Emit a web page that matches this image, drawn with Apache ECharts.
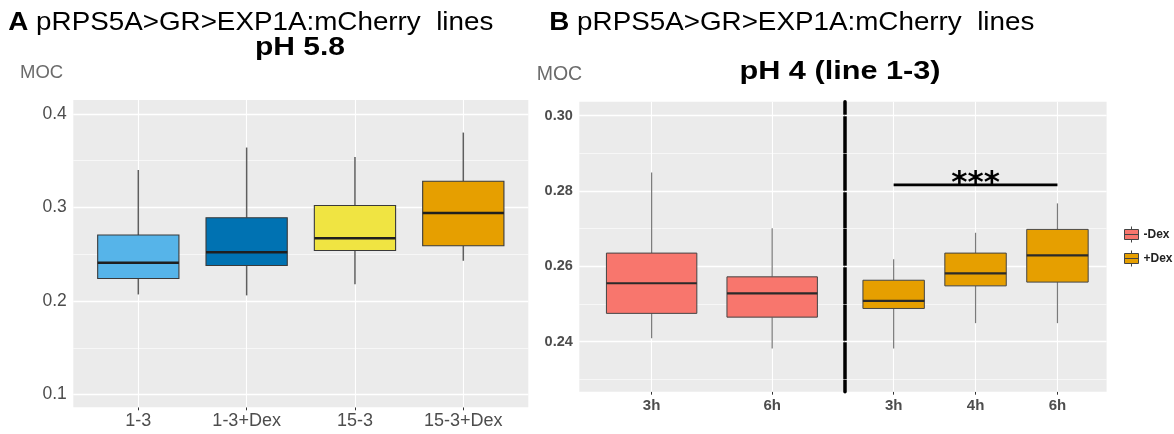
<!DOCTYPE html>
<html>
<head>
<meta charset="utf-8">
<script src="https://cdn.jsdelivr.net/npm/echarts@6/dist/echarts.min.js"></script>
<style>
  html, body { margin: 0; padding: 0; background: #ffffff; }
  #chart { width: 1174px; height: 434px; }
</style>
</head>
<body>
<div id="chart"></div>
<script>
// ---------------- data ----------------
// Panel A : pH 5.8
const catsA = ['1-3', '1-3+Dex', '15-3', '15-3+Dex'];
const lowA  = [0.207, 0.206, 0.218, 0.243];
const q1A   = [0.224, 0.238, 0.254, 0.259];
const medA  = [0.241, 0.252, 0.267, 0.294];
const q3A   = [0.2705, 0.289, 0.302, 0.328];
const highA = [0.340, 0.364, 0.354, 0.380];
const yTickLabelsA = ['0.1', '0.2', '0.3', '0.4'];
const yMinorA = [0.15, 0.25, 0.35];

// Panel B : pH 4 (line 1-3), -Dex
const catsB1 = ['3h', '6h'];
const lowB1  = [0.2409, 0.2382];
const q1B1   = [0.2475, 0.2465];
const medB1  = [0.2555, 0.2528];
const q3B1   = [0.2635, 0.2572];
const highB1 = [0.2849, 0.2701];

// Panel B : +Dex
const catsB2 = ['3h', '4h', '6h'];
const lowB2  = [0.2382, 0.2449, 0.2449];
const q1B2   = [0.2488, 0.2548, 0.2558];
const medB2  = [0.2508, 0.2581, 0.2629];
const q3B2   = [0.2563, 0.2635, 0.2698];
const highB2 = [0.2619, 0.2689, 0.2767];

const yTickLabelsB = ['0.24', '0.26', '0.28', '0.30'];
const yMinorB = [0.23, 0.25, 0.27, 0.29];

// significance bracket (+Dex 3h vs 6h)
const sigFrom = '3h', sigTo = '6h', sigY = 0.2816, sigLabel = '***';

const seriesNames = ['-Dex', '+Dex'];

// ---------------- style ----------------
const colorsA = ['#56B4E9', '#0072B2', '#F0E442', '#E69F00'];
const colorMinus = '#F8766D';
const colorPlus = '#E69F00';
const FONT = '"Liberation Sans", Arial, sans-serif';
const BOX_W = 0.75;

function boxData(low, q1, med, q3, high) {
  return low.map((_, i) => [i, low[i], q1[i], med[i], q3[i], high[i]]);
}

function makeBoxRender(colorFn, st) {
  return function (params, api) {
    const x = api.value(0);
    const pLo = api.coord([x, api.value(1)]);
    const pQ1 = api.coord([x, api.value(2)]);
    const pMd = api.coord([x, api.value(3)]);
    const pQ3 = api.coord([x, api.value(4)]);
    const pHi = api.coord([x, api.value(5)]);
    const half = api.size([BOX_W, 0])[0] / 2;
    const cx = pMd[0];
    return {
      type: 'group',
      children: [
        { type: 'line', shape: { x1: cx, y1: pHi[1], x2: cx, y2: pQ3[1] },
          style: { stroke: st.whisker, lineWidth: st.whiskerW } },
        { type: 'line', shape: { x1: cx, y1: pQ1[1], x2: cx, y2: pLo[1] },
          style: { stroke: st.whisker, lineWidth: st.whiskerW } },
        { type: 'rect', shape: { x: cx - half, y: pQ3[1], width: 2 * half, height: pQ1[1] - pQ3[1] },
          style: { fill: colorFn(params.dataIndex), stroke: st.border, lineWidth: st.borderW } },
        { type: 'line', shape: { x1: cx - half, y1: pMd[1], x2: cx + half, y2: pMd[1] },
          style: { stroke: st.median, lineWidth: st.medianW } }
      ]
    };
  };
}

function gridLines(xVals, yMajor, yMinor) {
  const ls = (w) => ({ color: '#ffffff', width: w, type: 'solid', opacity: 1 });
  return {
    silent: true, z: 1, animation: false, symbol: ['none', 'none'],
    label: { show: false }, emphasis: { disabled: true },
    data: [
      ...xVals.map(v => ({ xAxis: v, lineStyle: ls(1.1) })),
      ...yMajor.map(v => ({ yAxis: v, lineStyle: ls(1.3) })),
      ...yMinor.map(v => ({ yAxis: v, lineStyle: ls(0.6) }))
    ]
  };
}

const idx = (arr) => arr.map((_, i) => i);
const yTicksA = yTickLabelsA.map(Number);
const yTicksB = yTickLabelsB.map(Number);

function xAxisDef(grid, cats, font) {
  return {
    gridIndex: grid, type: 'value', min: -0.6, max: cats.length - 0.4,
    axisLine: { show: false }, splitLine: { show: false },
    axisTick: { show: true, customValues: idx(cats), length: 3, lineStyle: { color: '#333', width: 1 } },
    axisLabel: Object.assign({ customValues: idx(cats), formatter: v => cats[Math.round(v)] }, font)
  };
}

const fontA = { fontFamily: FONT, fontSize: 18, color: '#4d4d4d', margin: 5 };
const fontBx = { fontFamily: FONT, fontSize: 15, fontWeight: 'bold', color: '#4d4d4d', margin: 7 };

const stA = { whisker: '#5e5e5e', whiskerW: 1.5, border: '#3a3a3a', borderW: 1.1, median: '#1f1f1f', medianW: 2.5 };
const stB = { whisker: '#7a7a7a', whiskerW: 1.2, border: '#444444', borderW: 1, median: '#2a2a2a', medianW: 2.2 };

const boxIcon = 'path://M0,3 L14,3 L14,13 L0,13 Z M0,8 L14,8 M7,0 L7,3 M7,13 L7,16';

const option = {
  animation: false,
  backgroundColor: '#ffffff',
  grid: [
    { left: 73.3, top: 100, width: 455, height: 307.3, show: true, backgroundColor: '#ebebeb', borderWidth: 0 },
    { left: 579.3, top: 101.7, width: 265.2, height: 290, show: true, backgroundColor: '#ebebeb', borderWidth: 0 },
    { left: 844.5, top: 101.7, width: 262.1, height: 290, show: true, backgroundColor: '#ebebeb', borderWidth: 0 }
  ],
  xAxis: [
    xAxisDef(0, catsA, fontA),
    xAxisDef(1, catsB1, fontBx),
    xAxisDef(2, catsB2, fontBx)
  ],
  yAxis: [
    {
      gridIndex: 0, type: 'value', min: 0.0864, max: 0.4148,
      axisLine: { show: false }, splitLine: { show: false },
      axisTick: { show: true, customValues: yTicksA, length: 3, lineStyle: { color: '#333' } },
      axisLabel: { customValues: yTicksA, formatter: v => yTickLabelsA[yTicksA.indexOf(v)] ?? v.toFixed(1),
        fontFamily: FONT, fontSize: 17.5, color: '#4d4d4d', margin: 6.5 }
    },
    {
      gridIndex: 1, type: 'value', min: 0.2267, max: 0.3037,
      axisLine: { show: false }, splitLine: { show: false },
      axisTick: { show: true, customValues: yTicksB, length: 3, lineStyle: { color: '#333' } },
      axisLabel: { customValues: yTicksB, formatter: v => yTickLabelsB[yTicksB.indexOf(v)] ?? v.toFixed(2),
        fontFamily: FONT, fontSize: 14.5, fontWeight: 'bold', color: '#4d4d4d', margin: 6.5 }
    },
    {
      gridIndex: 2, type: 'value', min: 0.2267, max: 0.3037,
      axisLine: { show: true, onZero: false, lineStyle: { color: '#000000', width: 3.5 } },
      splitLine: { show: false }, axisTick: { show: false }, axisLabel: { show: false }
    }
  ],
  legend: {
    orient: 'vertical', left: 1119, top: 221, itemWidth: 14, itemHeight: 16, itemGap: 7,
    selectedMode: false,
    textStyle: { fontFamily: FONT, fontWeight: 'bold', fontSize: 12, color: '#222', padding: [0, 0, 0, 0] },
    data: [
      { name: seriesNames[0], icon: boxIcon, itemStyle: { color: colorMinus, borderColor: '#444', borderWidth: 1 } },
      { name: seriesNames[1], icon: boxIcon, itemStyle: { color: colorPlus, borderColor: '#444', borderWidth: 1 } }
    ]
  },
  graphic: [
    { type: 'text', x: 8.3, y: 22.5, scaleX: 1.09, silent: true,
      style: { text: '{b|A} pRPS5A>GR>EXP1A:mCherry  lines', font: '25.5px ' + FONT, fill: '#000',
        align: 'left', verticalAlign: 'middle',
        rich: { b: { fontWeight: 'bold', fontSize: 25.5, fontFamily: FONT } } } },
    { type: 'text', x: 549.3, y: 22.8, scaleX: 1.09, silent: true,
      style: { text: '{b|B} pRPS5A>GR>EXP1A:mCherry  lines', font: '25.5px ' + FONT, fill: '#000',
        align: 'left', verticalAlign: 'middle',
        rich: { b: { fontWeight: 'bold', fontSize: 25.5, fontFamily: FONT } } } },
    { type: 'text', x: 300, y: 48.3, scaleX: 1.2, silent: true,
      style: { text: 'pH 5.8', font: 'bold 25px ' + FONT, fill: '#000', align: 'center', verticalAlign: 'middle' } },
    { type: 'text', x: 840, y: 72, scaleX: 1.18, silent: true,
      style: { text: 'pH 4 (line 1-3)', font: 'bold 26px ' + FONT, fill: '#000', align: 'center', verticalAlign: 'middle' } },
    { type: 'text', x: 20, y: 73.3, silent: true,
      style: { text: 'MOC', font: '18.5px ' + FONT, fill: '#6b6b6b', align: 'left', verticalAlign: 'middle' } },
    { type: 'text', x: 536.7, y: 74.2, silent: true,
      style: { text: 'MOC', font: '19.5px ' + FONT, fill: '#6b6b6b', align: 'left', verticalAlign: 'middle' } }
  ],
  series: [
    {
      name: 'pH 5.8', type: 'custom', xAxisIndex: 0, yAxisIndex: 0, z: 2,
      data: boxData(lowA, q1A, medA, q3A, highA),
      renderItem: makeBoxRender(i => colorsA[i], stA),
      markLine: gridLines(idx(catsA), yTicksA, yMinorA)
    },
    {
      name: seriesNames[0], type: 'custom', xAxisIndex: 1, yAxisIndex: 1, z: 2,
      itemStyle: { color: colorMinus },
      data: boxData(lowB1, q1B1, medB1, q3B1, highB1),
      renderItem: makeBoxRender(() => colorMinus, stB),
      markLine: gridLines(idx(catsB1), yTicksB, yMinorB)
    },
    {
      name: seriesNames[1], type: 'custom', xAxisIndex: 2, yAxisIndex: 2, z: 2,
      itemStyle: { color: colorPlus },
      data: boxData(lowB2, q1B2, medB2, q3B2, highB2),
      renderItem: makeBoxRender(() => colorPlus, stB),
      markLine: gridLines(idx(catsB2), yTicksB, yMinorB)
    },
    {
      name: 'significance', type: 'custom', xAxisIndex: 2, yAxisIndex: 2, z: 3,
      data: [[catsB2.indexOf(sigFrom), catsB2.indexOf(sigTo), sigY]],
      renderItem: function (params, api) {
        const p0 = api.coord([api.value(0), api.value(2)]);
        const p1 = api.coord([api.value(1), api.value(2)]);
        return {
          type: 'group',
          children: [
            { type: 'line', shape: { x1: p0[0], y1: p0[1], x2: p1[0], y2: p1[1] },
              style: { stroke: '#000', lineWidth: 2.7 } },
            { type: 'text', x: (p0[0] + p1[0]) / 2, y: p0[1] - 1,
              style: { text: sigLabel, font: 'bold 31px "DejaVu Sans", sans-serif', fill: '#000',
                align: 'center', verticalAlign: 'middle' } }
          ]
        };
      }
    }
  ]
};

const chart = echarts.init(document.getElementById('chart'), null, { renderer: 'canvas' });
chart.setOption(option);
</script>
</body>
</html>
